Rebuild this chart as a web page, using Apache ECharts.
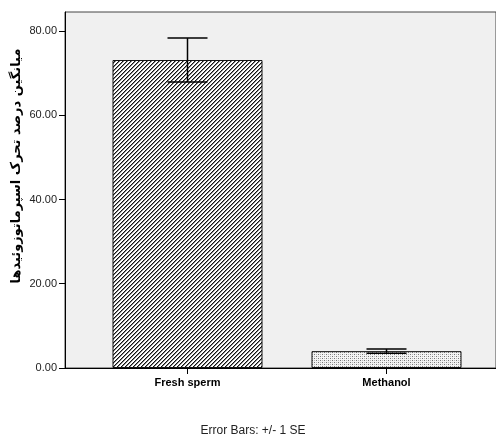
<!DOCTYPE html>
<html><head><meta charset="utf-8">
<script src="https://cdn.jsdelivr.net/npm/echarts@6/dist/echarts.min.js"></script>
<style>html,body{margin:0;padding:0;background:#fff}#c{width:496px;height:434px}</style>
</head><body><div id="c"></div>
<script>
var categories = ['Fresh sperm', 'Methanol'];
var means = [73.1, 4.0];
var seValues = [5.2, 0.5];
var yTicks = [0, 20, 40, 60, 80];
var yAxisTitle = 'میانگین درصد تحرک اسپرماتوزوئیدها';
var footnote = 'Error Bars: +/- 1 SE';

function hatchPattern() {
  var c = document.createElement('canvas'); c.width = 4; c.height = 4;
  var g = c.getContext('2d');
  g.fillStyle = '#fff'; g.fillRect(0, 0, 4, 4);
  for (var r = 0; r < 4; r++) {
    g.fillStyle = '#111'; g.fillRect((3 - r + 4) % 4, r, 1, 1);
    g.fillStyle = '#888'; g.fillRect((4 - r + 4) % 4, r, 1, 1);
  }
  return c;
}
function dotPattern() {
  var c = document.createElement('canvas'); c.width = 4; c.height = 4;
  var g = c.getContext('2d');
  g.fillStyle = '#f4f4f4'; g.fillRect(0, 0, 4, 4);
  g.fillStyle = '#777'; g.fillRect(0, 0, 1, 1); g.fillRect(2, 2, 1, 1);
  g.fillStyle = '#bbb'; g.fillRect(2, 0, 1, 1); g.fillRect(0, 2, 1, 1);
  return c;
}
var patterns = [hatchPattern(), dotPattern()];

var chart = echarts.init(document.getElementById('c'));
var YMAX = 84.5;
chart.setOption({
  animation: false,
  backgroundColor: '#fff',
  grid: [
    {left: 65, right: -2, top: 12, bottom: 66, show: true, backgroundColor: '#f0f0f0', borderColor: '#444', borderWidth: 1},
    {left: 88, right: 10, top: 12, bottom: 66}
  ],
  xAxis: [
    {type: 'value', gridIndex: 0, min: 0, max: 1, axisLine: {show: true, onZero: false, lineStyle: {color: '#000', width: 1}}, axisTick: {show: false}, axisLabel: {show: false}, splitLine: {show: false}},
    {type: 'category', gridIndex: 1, data: categories, axisLine: {show: false}, axisTick: {show: true, alignWithLabel: true, length: 6, lineStyle: {color: '#000'}}, axisLabel: {color: '#000', fontFamily: 'Liberation Sans', fontWeight: 'bold', fontSize: 11, margin: 9}}
  ],
  yAxis: [
    {type: 'value', gridIndex: 0, min: 0, max: YMAX,
     axisLine: {show: true, lineStyle: {color: '#000', width: 1}},
     axisTick: {show: true, length: 6, customValues: yTicks, lineStyle: {color: '#000'}},
     axisLabel: {customValues: yTicks, color: '#222', fontFamily: 'Liberation Sans', fontSize: 11, margin: 8, formatter: function (v) { return v.toFixed(2); }},
     splitLine: {show: false}},
    {type: 'value', gridIndex: 1, min: 0, max: YMAX, show: false}
  ],
  series: [
    {type: 'bar', xAxisIndex: 1, yAxisIndex: 1, barWidth: 150,
     data: means.map(function (v, i) { return {value: v, itemStyle: {color: {image: patterns[i], repeat: 'repeat'}, borderColor: '#111', borderWidth: 1}}; })},
    {type: 'custom', xAxisIndex: 1, yAxisIndex: 1, z: 5,
     data: means.map(function (v, i) { return [i, v - seValues[i], v + seValues[i]]; }),
     renderItem: function (params, api) {
       var x = api.coord([api.value(0), 0])[0];
       var lo = api.coord([api.value(0), api.value(1)])[1];
       var hi = api.coord([api.value(0), api.value(2)])[1];
       var hw = 20;
       var st = {stroke: '#000', lineWidth: 1.5};
       return {type: 'group', children: [
         {type: 'line', shape: {x1: x, y1: hi, x2: x, y2: lo}, style: st},
         {type: 'line', shape: {x1: x - hw, y1: hi, x2: x + hw, y2: hi}, style: st},
         {type: 'line', shape: {x1: x - hw, y1: lo, x2: x + hw, y2: lo}, style: st}
       ]};
     }}
  ],
  graphic: [
    {type: 'text', x: 17, y: 166, rotation: Math.PI / 2, style: {text: yAxisTitle, align: 'center', verticalAlign: 'middle', font: 'bold 13px "DejaVu Sans"', fill: '#000'}},
    {type: 'text', x: 253, y: 425, style: {text: footnote, align: 'center', font: '12px "Liberation Sans"', fill: '#222'}}
  ]
});
</script></body></html>
